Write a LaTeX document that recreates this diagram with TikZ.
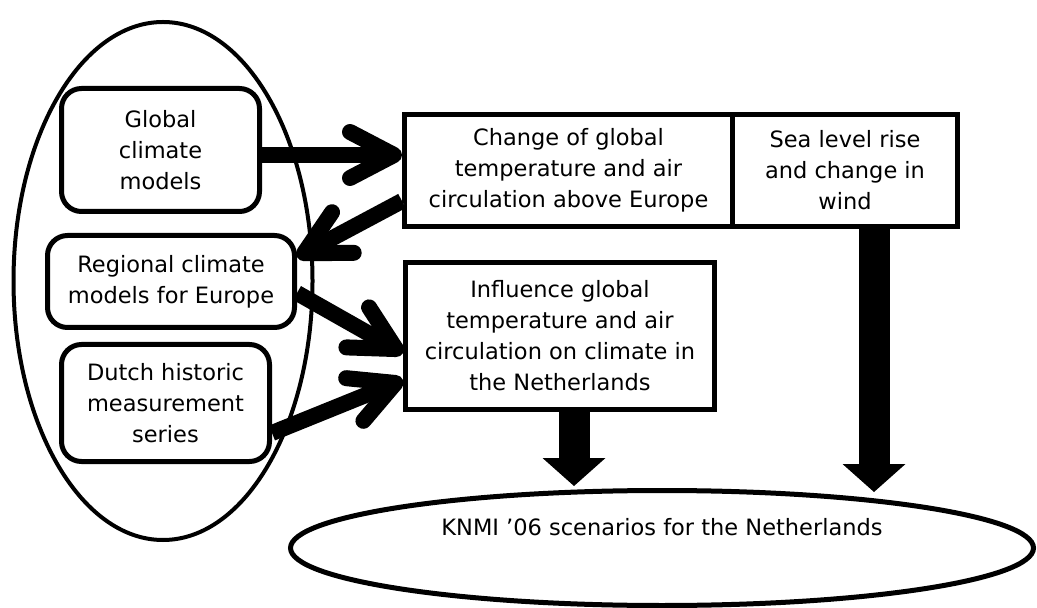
\documentclass[tikz,border=0pt]{standalone}
\usepackage{fontspec}
\setmainfont{DejaVu Sans}
\usetikzlibrary{shapes.geometric,arrows.meta}

\tikzset{
    src/.style={draw, line width=2.5pt, rounded corners=10pt, fill=white, align=center, inner sep=0pt, font=\fontsize{11.25}{15.5}\selectfont},
    res/.style={draw, line width=2.5pt, fill=white, align=center, inner sep=0pt, font=\fontsize{11.25}{15.5}\selectfont},
    flow/.style={line width=8pt, -{Straight Barb[length=22pt,width=23pt,round]},
        preaction={draw=gray!55, transform canvas={shift={(1pt,-1.5pt)}}}},
    block/.style={line width=15.5pt, -{Triangle[length=14pt,width=31.5pt,line width=0pt]}},
}

\begin{document}
\begin{tikzpicture}[x=0.5pt, y=-0.5pt]
\useasboundingbox (0,0) rectangle (1037,608);

% inputs
\node [ellipse, draw, line width=2pt, minimum width=149.5pt, minimum height=259pt, inner sep=0pt] (grp) at (163,281) {};
\node [src, minimum width=99pt, minimum height=61.5pt] (glob) at (160.5,150) {Global\\climate\\models};
\node [src, minimum width=123.5pt, minimum height=46pt] (reg) at (171,281.5) {Regional climate\\models for Europe};
\node [src, minimum width=104pt, minimum height=58.5pt] (dut) at (165.5,403) {Dutch historic\\measurement\\series};

% results
\node [res, minimum width=164pt, minimum height=56pt] (chg) at (568.5,170.5) {Change of global\\temperature and air\\circulation above Europe};
\node [res, minimum width=112.5pt, minimum height=56pt] (sea) at (845,170.5) {Sea level rise\\and change in\\wind};
\node [res, minimum width=154.5pt, minimum height=73.5pt] (inf) at (560,336) {Influence global\\temperature and air\\circulation on climate in\\the Netherlands};
\node [ellipse, draw, line width=2.5pt, minimum width=371.5pt, minimum height=57.5pt, inner sep=0pt,
       label={[font=\fontsize{11.25}{15.5}\selectfont, yshift=10.5pt]center:KNMI ’06 scenarios for the Netherlands}] (knmi) at (662,548) {};

\coordinate (t1) at (574,486);
\coordinate (t2) at (874,492);

% arrows
\draw [flow] ([yshift=-2.5pt]glob.east) -- ([yshift=-2.5pt]glob.east -| chg.west);
\draw [flow] ([yshift=14pt]chg.south west) -- ([yshift=-12pt]reg.north east);
\draw [flow] ([yshift=18.5pt]reg.south east) -- ([yshift=-46.5pt]inf.north west);
\draw [flow] ([yshift=15.5pt]dut.south east) -- ([yshift=-60pt]inf.north west);
\draw [block] (inf.south -| t1) -- (t1);
\draw [block] (sea.south -| t2) -- (t2);
\end{tikzpicture}
\end{document}
